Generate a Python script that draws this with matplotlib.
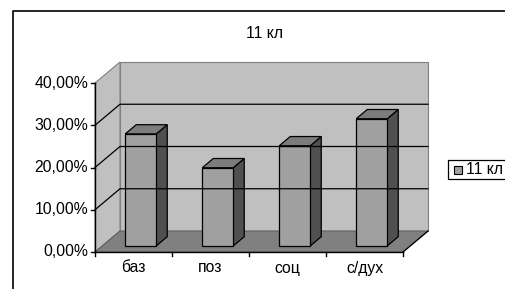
import matplotlib.pyplot as plt
from matplotlib.patches import Polygon, Rectangle

# data
categories = ["баз", "поз", "соц", "с/дух"]
values = [0.265, 0.185, 0.237, 0.301]
yticks = [0.0, 0.1, 0.2, 0.3, 0.4]
ytick_labels = ["0,00%", "10,00%", "20,00%", "30,00%", "40,00%"]
series_name = "11 кл"

# 3d box geometry in pixels
X0, X1 = 95, 403      # front floor edge
Y0 = 252              # front zero line
SCALE = 422.5         # pixels per 1.0 (100%)
DX, DY = 25, -21      # depth offset front -> back
YMAX = 0.4
d_front, d_back = 0.29, 0.73
bar_w = 31
FS = 11.3

def pt(x, v, d):
    return (x + d * DX, Y0 + d * DY - v * SCALE)

plt.rcParams['font.family'] = ['Liberation Sans', 'DejaVu Sans']
fig = plt.figure(figsize=(5.05, 2.89), dpi=100)
ax = fig.add_axes([0, 0, 1, 1])
ax.set_xlim(0, 505)
ax.set_ylim(289, 0)
ax.axis('off')

# chart area border
ax.plot([13, 13, 505], [289, 11, 11], color='black', lw=1.2)

# walls
back = Polygon([pt(X0, 0, 1), pt(X1, 0, 1), pt(X1, YMAX, 1), pt(X0, YMAX, 1)],
               facecolor='#c0c0c0', edgecolor='#808080', lw=0.8)
side = Polygon([pt(X0, 0, 0), pt(X0, 0, 1), pt(X0, YMAX, 1), pt(X0, YMAX, 0)],
               facecolor='#c0c0c0', edgecolor='#808080', lw=0.8)
ax.add_patch(back)
ax.add_patch(side)

# gridlines
for t in yticks[1:-1]:
    a, b, c = pt(X0, t, 0), pt(X0, t, 1), pt(X1, t, 1)
    ax.plot([a[0], b[0], c[0]], [a[1], b[1], c[1]], color='black', lw=0.9)

# floor
floor = Polygon([pt(X0, 0, 0), pt(X1, 0, 0), pt(X1, 0, 1), pt(X0, 0, 1)],
                facecolor='#808080', edgecolor='#606060', lw=0.8)
ax.add_patch(floor)
a, b = pt(X1, 0, 0), pt(X1, 0, 1)
ax.plot([a[0], b[0]], [a[1], b[1]], color='black', lw=0.9)

# axes
ax.plot([X0, X0], [Y0, Y0 - YMAX * SCALE], color='black', lw=1)
ax.plot([X0, X1], [Y0, Y0], color='black', lw=1)
for t, lab in zip(yticks, ytick_labels):
    y = Y0 - t * SCALE
    ax.plot([X0 - 4, X0], [y, y], color='black', lw=1)
    ax.text(X0 - 7, y, lab, ha='right', va='center', fontsize=FS)

n = len(categories)
cw = (X1 - X0) / n
for i in range(n + 1):
    x = X0 + i * cw
    ax.plot([x, x], [Y0, Y0 + 4], color='black', lw=1)

# bars
for i, (cat, v) in enumerate(zip(categories, values)):
    xc = X0 + (i + 0.5) * cw
    xl, xr = xc - bar_w / 2, xc + bar_w / 2
    side_face = Polygon([pt(xr, 0, d_front), pt(xr, 0, d_back),
                         pt(xr, v, d_back), pt(xr, v, d_front)],
                        facecolor='#505050', edgecolor='black', lw=0.9)
    top_face = Polygon([pt(xl, v, d_front), pt(xr, v, d_front),
                        pt(xr, v, d_back), pt(xl, v, d_back)],
                       facecolor='#7c7c7c', edgecolor='black', lw=0.9)
    front_face = Polygon([pt(xl, 0, d_front), pt(xr, 0, d_front),
                          pt(xr, v, d_front), pt(xl, v, d_front)],
                         facecolor='#a0a0a0', edgecolor='black', lw=0.9)
    ax.add_patch(side_face)
    ax.add_patch(top_face)
    ax.add_patch(front_face)
    ax.text(xc, 268, cat, ha='center', va='center', fontsize=FS)

# title
ax.text(264, 33, series_name, ha='center', va='center', fontsize=FS)

# legend
ax.add_patch(Rectangle((448, 160), 70, 19, facecolor='white', edgecolor='black', lw=0.9))
ax.add_patch(Rectangle((454, 165.5), 8, 8, facecolor='#a0a0a0', edgecolor='black', lw=0.8))
ax.text(466, 170, series_name, ha='left', va='center', fontsize=FS)

plt.savefig("out.png", dpi=100)
